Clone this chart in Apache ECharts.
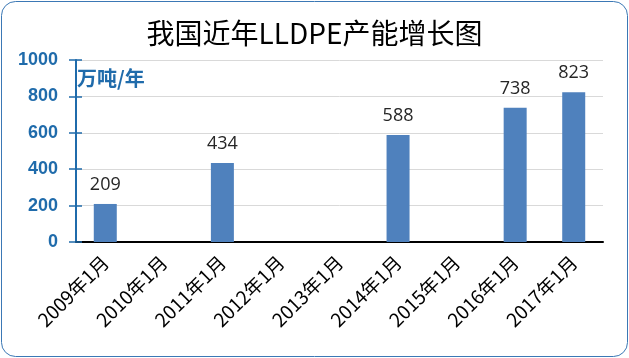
<!DOCTYPE html>
<html><head><meta charset="utf-8">
<script src="https://cdn.jsdelivr.net/npm/echarts@6/dist/echarts.min.js"></script>
<style>html,body{margin:0;padding:0;background:#fff}#c{width:629px;height:358px}</style>
</head><body><div id="c"></div>
<script>
var title = '我国近年LLDPE产能增长图';
var unitLabel = '万吨/年';
var categories = ['2009年1月','2010年1月','2011年1月','2012年1月','2013年1月','2014年1月','2015年1月','2016年1月','2017年1月'];
var capacity = [209, null, 434, null, null, 588, null, 738, 823];
var yTicks = {min: 0, max: 1000, interval: 200};

var chart = echarts.init(document.getElementById('c'));
var blue = '#1f6bab';
chart.setOption({
  animation: false,
  backgroundColor: '#fff',
  graphic: [{
    type: 'rect', left: 1, top: 1, z: -1,
    shape: {width: 626, height: 355, r: 14},
    style: {fill: '#fff', stroke: '#3b78b5', lineWidth: 1}
  }, {
    type: 'text', left: 77, top: 68,
    style: {text: unitLabel, fill: blue, font: 'bold 20px "Noto Sans CJK SC"'}
  }],
  title: {
    text: title, left: 'center', top: 14,
    textStyle: {fontFamily: '"Noto Sans CJK SC"', fontSize: 28, fontWeight: 'normal', color: '#000'}
  },
  grid: {left: 76, right: 26, top: 60, bottom: 116, containLabel: false},
  xAxis: {
    type: 'category', data: categories,
    axisLine: {lineStyle: {color: '#000', width: 2}},
    axisTick: {inside: true, length: 7, lineStyle: {color: '#000', width: 1.5}},
    axisLabel: {rotate: 45, interval: 0, margin: 17, color: '#000', fontSize: 19, fontFamily: '"Liberation Sans Narrow", "Noto Sans CJK SC"'}
  },
  yAxis: [{
    type: 'value', min: yTicks.min, max: yTicks.max, interval: yTicks.interval,
    axisLine: {show: true, lineStyle: {color: blue, width: 2}},
    axisTick: {show: true, length: 7, lineStyle: {color: blue, width: 1.5}},
    axisLabel: {margin: 18, color: blue, fontSize: 18, fontWeight: 'bold', fontFamily: '"Liberation Sans"', formatter: function (v) { return String(v); }},
    splitLine: {lineStyle: {color: '#d9d9d9'}}
  }, {
    type: 'value', min: yTicks.min, max: yTicks.max, interval: yTicks.interval, position: 'left',
    axisLine: {show: false},
    axisTick: {show: true, inside: true, length: 6, lineStyle: {color: blue, width: 1.5}},
    axisLabel: {show: false}, splitLine: {show: false}
  }],
  series: [{
    type: 'bar', data: capacity, barWidth: 23,
    itemStyle: {color: '#4f81bd'},
    label: {show: true, position: 'top', distance: 10, color: '#262626', fontSize: 18, fontFamily: '"Open Sans"'}
  }]
});
</script></body></html>
